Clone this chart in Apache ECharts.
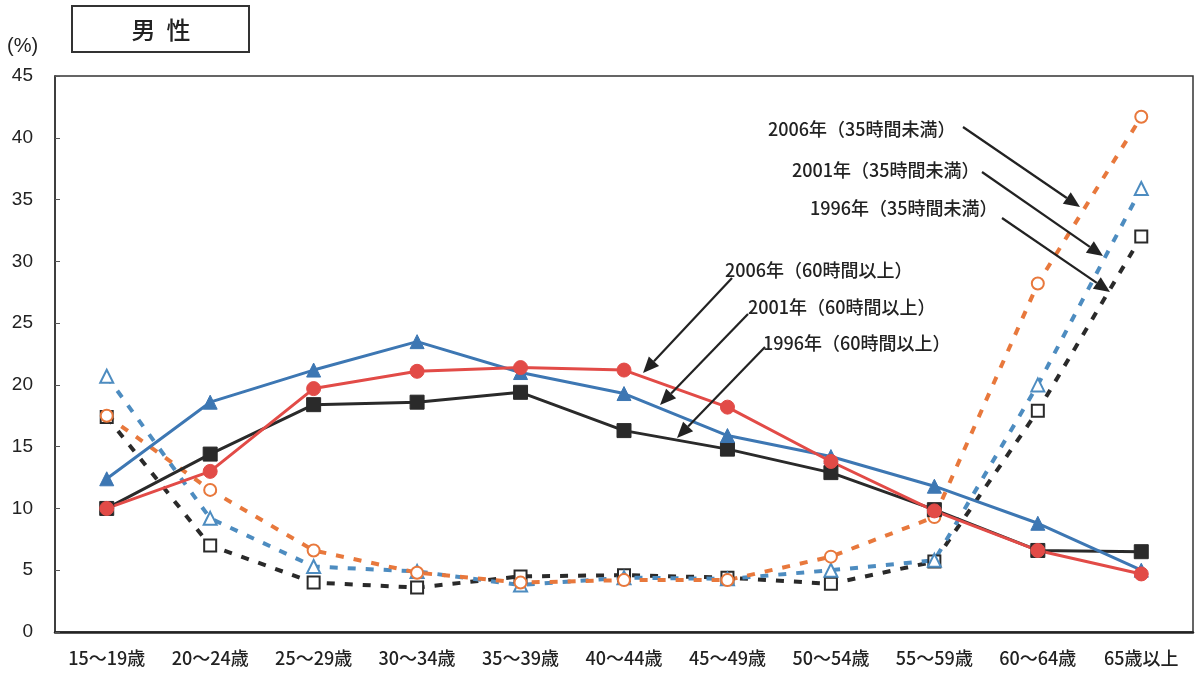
<!DOCTYPE html>
<html><head><meta charset="utf-8">
<script src="https://cdn.jsdelivr.net/npm/echarts@6/dist/echarts.min.js"></script>
<style>html,body{margin:0;padding:0;background:#fff}#c{width:1202px;height:673px}</style>
</head><body><div id="c"></div>
<script>
const categories = ['15～19歳','20～24歳','25～29歳','30～34歳','35～39歳','40～44歳','45～49歳','50～54歳','55～59歳','60～64歳','65歳以上'];
const yTicks = [0,5,10,15,20,25,30,35,40,45];
const long1996 = [10.0,14.4,18.4,18.6,19.4,16.3,14.8,12.9,9.9,6.6,6.5];
const long2001 = [12.4,18.6,21.2,23.5,21.0,19.3,15.9,14.2,11.8,8.8,5.0];
const long2006 = [10.0,13.0,19.7,21.1,21.4,21.2,18.2,13.8,9.8,6.6,4.7];
const short1996 = [17.4,7.0,4.0,3.6,4.5,4.6,4.4,3.9,5.7,17.9,32.0];
const short2001 = [20.7,9.2,5.3,4.9,3.8,4.4,4.3,5.0,5.8,20.0,35.9];
const short2006 = [17.5,11.5,6.6,4.8,4.0,4.2,4.2,6.1,9.3,28.2,41.7];

const cBlack='#2a2a2a', cBlue='#3d77b3', cRed='#e24b47', cOrange='#e8783c', cBlueL='#4d8cc0';
const jp = '"Noto Sans CJK JP","Noto Sans CJK SC",sans-serif';

function solid(name,data,color,symbol,size){
  return {name,type:'line',data,symbol,symbolSize:size,
    lineStyle:{color,width:3},itemStyle:{color,borderColor:color},z:5};
}
function dashed(name,data,color,symbol,size){
  return {name,type:'line',data,symbol,symbolSize:size,
    lineStyle:{color,width:4,type:[8,10],cap:'butt'},
    itemStyle:{color:'#fff',borderColor:color,borderWidth:2},z:4};
}

function arrow(x1,y1,x2,y2){
  const a=Math.atan2(y2-y1,x2-x1), L=16, W=7;
  const bx=x2-L*Math.cos(a), by=y2-L*Math.sin(a);
  const px=-Math.sin(a)*W, py=Math.cos(a)*W;
  return [
    {type:'line',shape:{x1,y1,x2:bx,y2:by},style:{stroke:'#222',lineWidth:2.2},z:10},
    {type:'polygon',shape:{points:[[x2,y2],[bx+px,by+py],[bx-px,by-py]]},style:{fill:'#222'},z:10}
  ];
}
function label(text,x,y){
  return {type:'text',x,y,style:{text,fill:'#222',font:'500 18px '+jp,textVerticalAlign:'middle'},z:10};
}

const graphics = [
  {type:'rect',shape:{x:72,y:6,width:177,height:46},style:{fill:'#fff',stroke:'#333',lineWidth:2},z:10},
  {type:'text',x:161,y:30,style:{text:'男  性',fill:'#222',font:'500 24px '+jp,textAlign:'center',textVerticalAlign:'middle'},z:11},
  {type:'text',x:7,y:46,style:{text:'(%)',fill:'#222',font:'20px "Liberation Sans",Arial,sans-serif',textVerticalAlign:'middle'},z:11},
  label('2006年（35時間未満）',768,129),
  label('2001年（35時間未満）',792,170),
  label('1996年（35時間未満）',810,208),
  label('2006年（60時間以上）',725,270),
  label('2001年（60時間以上）',748,307),
  label('1996年（60時間以上）',763,343),
  ...arrow(963,127,1080,207),
  ...arrow(982,172,1103,256),
  ...arrow(1002,218,1110,292),
  ...arrow(732,278,643,373),
  ...arrow(748,314,660,405),
  ...arrow(765,347,677,438)
];

const chart = echarts.init(document.getElementById('c'),null,{renderer:'canvas'});
chart.setOption({
  backgroundColor:'#fff',
  animation:false,
  grid:{left:55,right:9,top:76,bottom:41,show:true,borderColor:'#333',borderWidth:1.5,backgroundColor:'transparent'},
  xAxis:{type:'category',data:categories,boundaryGap:true,
    axisLine:{lineStyle:{color:'#222',width:2.5}},axisTick:{show:false},
    axisLabel:{color:'#222',fontSize:18,fontWeight:500,fontFamily:jp,margin:17,interval:0}},
  yAxis:{type:'value',min:0,max:45,interval:5,
    axisLine:{show:true,lineStyle:{color:'#333',width:1.5}},
    axisTick:{show:true,inside:true,length:5,lineStyle:{color:'#555'}},
    splitLine:{show:false},
    axisLabel:{color:'#222',fontSize:19,fontFamily:'"Liberation Sans",Arial,sans-serif',margin:22,
      formatter:v=>yTicks.includes(v)?String(v):''}},
  series:[
    dashed('1996年（35時間未満）',short1996,cBlack,'rect',12),
    dashed('2001年（35時間未満）',short2001,cBlueL,'triangle',13),
    dashed('2006年（35時間未満）',short2006,cOrange,'circle',12),
    solid('1996年（60時間以上）',long1996,cBlack,'rect',14),
    solid('2001年（60時間以上）',long2001,cBlue,'triangle',14),
    solid('2006年（60時間以上）',long2006,cRed,'circle',14)
  ],
  graphic:graphics
});
</script></body></html>
